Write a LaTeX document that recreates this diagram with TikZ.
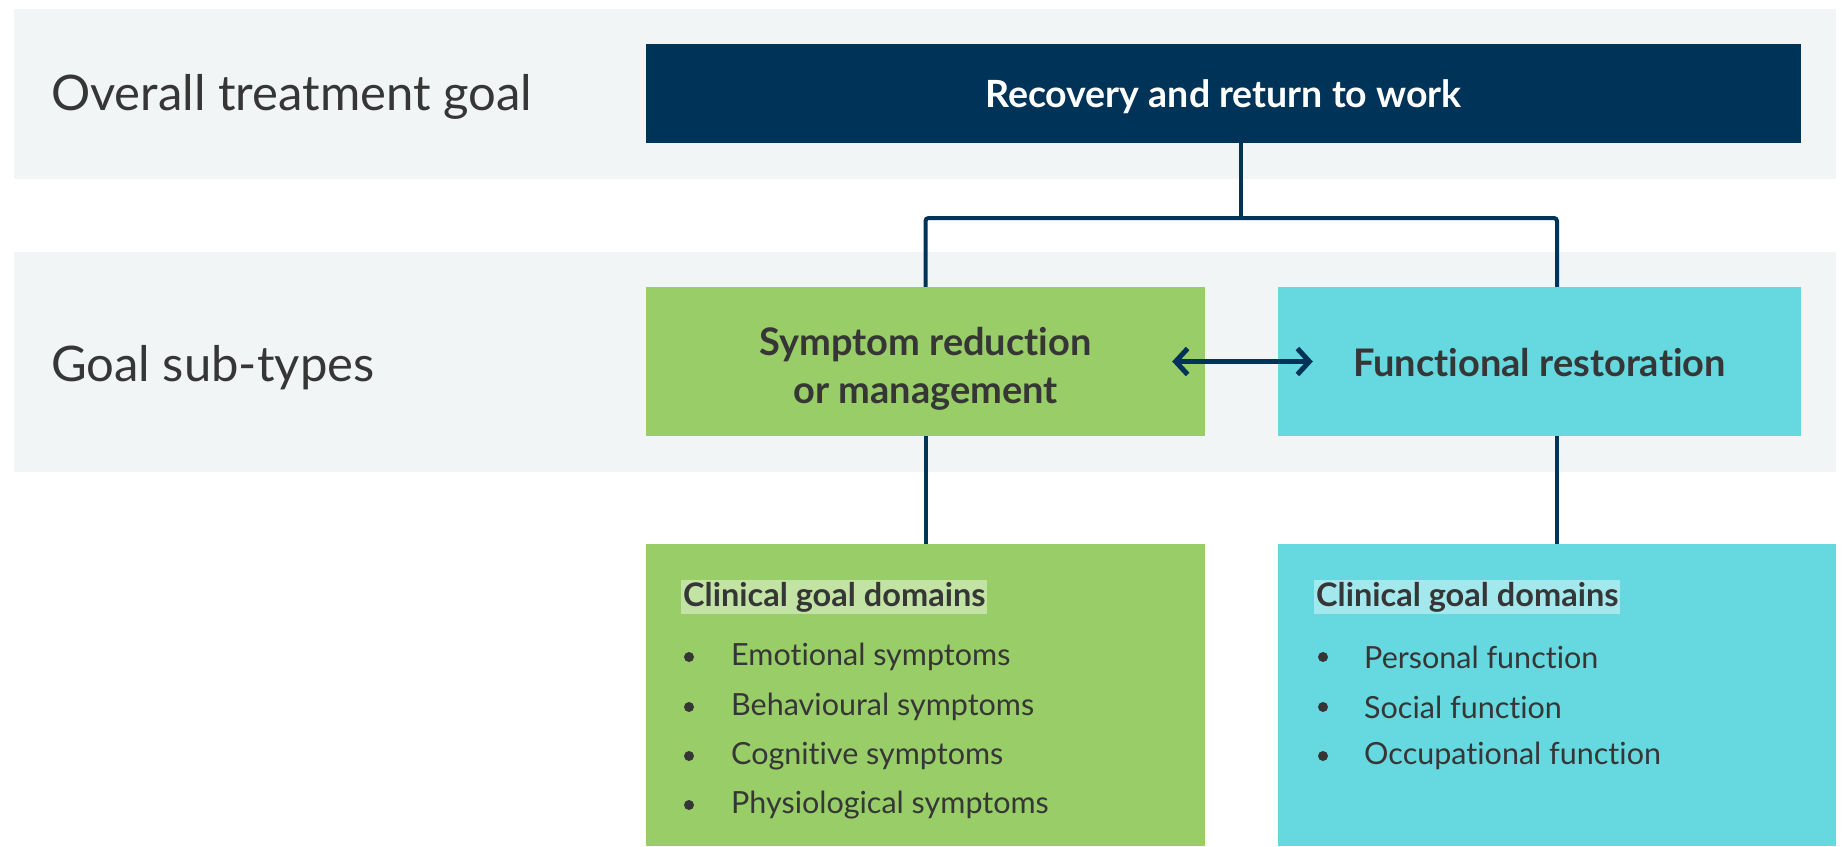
\documentclass[tikz,border=0pt]{standalone}
\usepackage{fontspec}
\setmainfont{Lato}[Ligatures=NoCommon]
\usetikzlibrary{arrows.meta,calc}
\definecolor{navy}{HTML}{003358}
\definecolor{bandgray}{HTML}{F2F5F6}
\definecolor{symgreen}{HTML}{98CD68}
\definecolor{funcyan}{HTML}{66D8DF}
\definecolor{symlight}{HTML}{C2E3A4}
\definecolor{funlight}{HTML}{A3E8EC}
\definecolor{txt}{HTML}{363636}
\tikzset{
  rowlabel/.style={anchor=west,text=txt,font=\fontsize{49}{58}\selectfont,inner sep=0pt},
  topbox/.style={fill=navy,inner sep=0pt},
  toptext/.style={text=white,font=\bfseries\fontsize{37.5}{44}\selectfont,inner sep=0pt},
  subbox/.style={inner sep=0pt},
  subtext/.style={text=txt,font=\bfseries\fontsize{38}{48}\selectfont,inner sep=0pt,align=center},
  listbox/.style={inner sep=0pt},
  listhead/.style={anchor=west,text=txt,font=\bfseries\fontsize{32.5}{38}\selectfont,inner xsep=2pt,inner ysep=2pt},
  listitem/.style={anchor=west,text=txt,font=\fontsize{30.5}{36}\selectfont,inner sep=0pt},
  bulletdot/.style={circle,fill=txt,inner sep=0pt,minimum size=10pt},
  conn/.style={draw=navy,line width=4pt,rounded corners=3pt},
  arr/.style={draw=navy,line width=5pt,{Straight Barb[length=12pt,width=26pt]}-{Straight Barb[length=12pt,width=26pt]}}
}
\begin{document}
\begin{tikzpicture}[x=1pt,y=-1pt]
\useasboundingbox (0,0) rectangle (1847,846);
% background bands
\fill[bandgray] (14,9) rectangle (1836,179);
\fill[bandgray] (14,252) rectangle (1836,472);
% row labels
\node[rowlabel] (lab1) at (51,97) {Overall treatment goal};
\node[rowlabel] (lab2) at (51,368) {Goal sub-types};
% top box
\node[topbox,minimum width=1155pt,minimum height=99pt] (top) at (1223.5,93.5) {};
\node[toptext] (topt) at ($(top.center)+(0,3.5)$) {Recovery and return to work};
% sub boxes
\node[subbox,fill=symgreen,minimum width=559pt,minimum height=149pt] (sym) at (925.5,361.5) {};
\node[subtext] (symt) at ($(sym.center)+(0,7)$) {Symptom reduction\\or management};
\node[subbox,fill=funcyan,minimum width=523pt,minimum height=149pt] (fun) at (1539.5,361.5) {};
\node[subtext] (funt) at ($(fun.center)+(0,1.5)$) {Functional restoration};
% list boxes
\node[listbox,fill=symgreen,minimum width=559pt,minimum height=302pt] (symlist) at (925.5,695) {};
\node[listbox,fill=funcyan,minimum width=558pt,minimum height=302pt] (funlist) at (1557,695) {};
% connectors
\coordinate (j) at ($(sym.north)!0.5!(funlist.north)$);
\coordinate (jj) at (j |- 0,218);
\draw[conn] (top.south -| jj) -- (jj);
\draw[conn] (sym.north) -- (sym.north |- jj) -- (funlist.north |- jj) -- (funlist.north |- fun.north);
\draw[conn] (sym.south) -- (symlist.north);
\draw[conn] (fun.south -| funlist.north) -- (funlist.north);
% double arrow
\draw[arr] ($(sym.east)+(-33,0)$) -- ($(fun.west)+(35,0)$);
% green list
\node[listhead,fill=symlight] (sh) at (681,597) {Clinical goal domains};
\node[bulletdot] (sb1) at (689,657) {};
\node[bulletdot] (sb2) at (689,707) {};
\node[bulletdot] (sb3) at (689,756) {};
\node[bulletdot] (sb4) at (689,805) {};
\node[listitem] (si1) at (731,657) {Emotional symptoms};
\node[listitem] (si2) at (731,707) {Behavioural symptoms};
\node[listitem] (si3) at (731,756) {Cognitive symptoms};
\node[listitem] (si4) at (731,805) {Physiological symptoms};
% cyan list
\node[listhead,fill=funlight] (fh) at (1314,597) {Clinical goal domains};
\node[bulletdot] (fb1) at (1323,657) {};
\node[bulletdot] (fb2) at (1323,707) {};
\node[bulletdot] (fb3) at (1323,756) {};
\node[listitem] (fi1) at (1364,657) {Personal function};
\node[listitem] (fi2) at (1364,707) {Social function};
\node[listitem] (fi3) at (1364,756) {Occupational function};
\end{tikzpicture}
\end{document}
